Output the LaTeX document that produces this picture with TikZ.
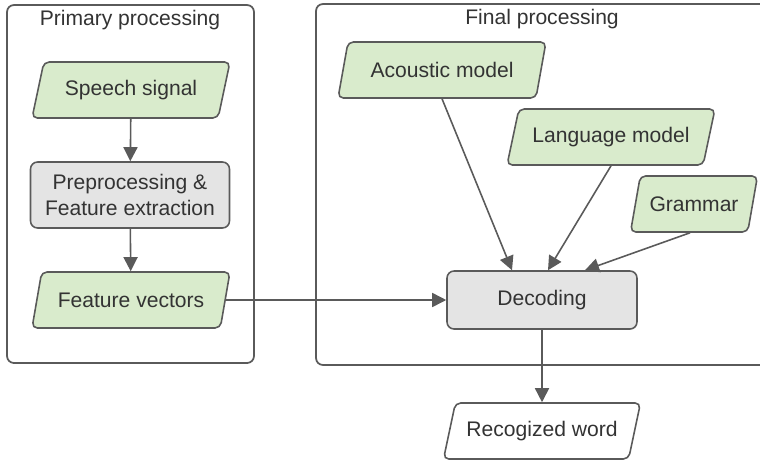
\documentclass[tikz,border=0pt]{standalone}
\usepackage{fontspec}
\setmainfont{Liberation Sans}
\usetikzlibrary{arrows.meta, positioning, shapes.geometric}
\definecolor{lineGray}{HTML}{5A5A5A}
\definecolor{textDark}{HTML}{333333}
\definecolor{ioGreen}{HTML}{D9EBCC}
\definecolor{procGray}{HTML}{E4E4E4}

\begin{document}
\begin{tikzpicture}[
    x=0.02cm, y=-0.02cm,
    font=\fontsize{12}{14.5}\selectfont\color{textDark},
    frame/.style={draw=lineGray, line width=1pt, rounded corners=4pt},
    frametitle/.style={inner sep=0pt, anchor=center},
    iobox/.style={trapezium, trapezium left angle=66, trapezium right angle=114,
                 trapezium stretches body=true, draw=lineGray, line width=0.9pt,
                 fill=ioGreen, rounded corners=3pt, align=center,
                 minimum height=1.12cm, inner sep=2pt},
    procbox/.style={rectangle, draw=lineGray, line width=0.9pt, fill=procGray,
                 rounded corners=4pt, align=center, inner sep=2pt},
    flow/.style={draw=lineGray, line width=0.9pt, -{Triangle[length=8pt, width=8pt]}},
  ]
    \useasboundingbox (0,0) rectangle (760,464);
    \clip (0,0) rectangle (760,464);

    % groups
    \draw[frame] (7,5) rectangle (254,363);
    \draw[frame] (316,4) rectangle (775,365);
    \node[frametitle] (primTitle) at (130,20) {Primary processing};
    \node[frametitle] (finTitle) at (542,19) {Final processing};

    % primary processing
    \node[iobox, minimum width=3.96cm] (speech) at (131,90) {Speech signal};
    \node[procbox, minimum width=3.98cm, minimum height=1.32cm] (prep) at (130,195)
      {Preprocessing \&\\Feature extraction};
    \node[iobox, minimum width=3.96cm] (feat) at (131,300) {Feature vectors};

    % final processing
    \node[iobox, minimum width=4.16cm] (acoustic) at (442,70) {Acoustic model};
    \node[iobox, minimum width=4.16cm] (language) at (611,137) {Language model};
    \node[iobox, minimum width=2.54cm] (grammar) at (694,204) {Grammar};
    \node[procbox, minimum width=3.8cm, minimum height=1.16cm] (decode) at (542,300) {Decoding};

    % output
    \node[iobox, fill=white, minimum width=3.94cm] (word) at (542,431) {Recogized word};

    \draw[flow] (speech) -- (prep);
    \draw[flow] (prep) -- (feat);
    \draw[flow] (feat.east) -- (decode.west);
    \draw[flow] (acoustic.south) -- ([xshift=-0.6cm]decode.north);
    \draw[flow] (language.south) -- ([xshift=0.12cm]decode.north);
    \draw[flow] ([xshift=-0.08cm]grammar.south) -- ([xshift=0.86cm]decode.north);
    \draw[flow] (decode) -- (word);
  \end{tikzpicture}
\end{document}
